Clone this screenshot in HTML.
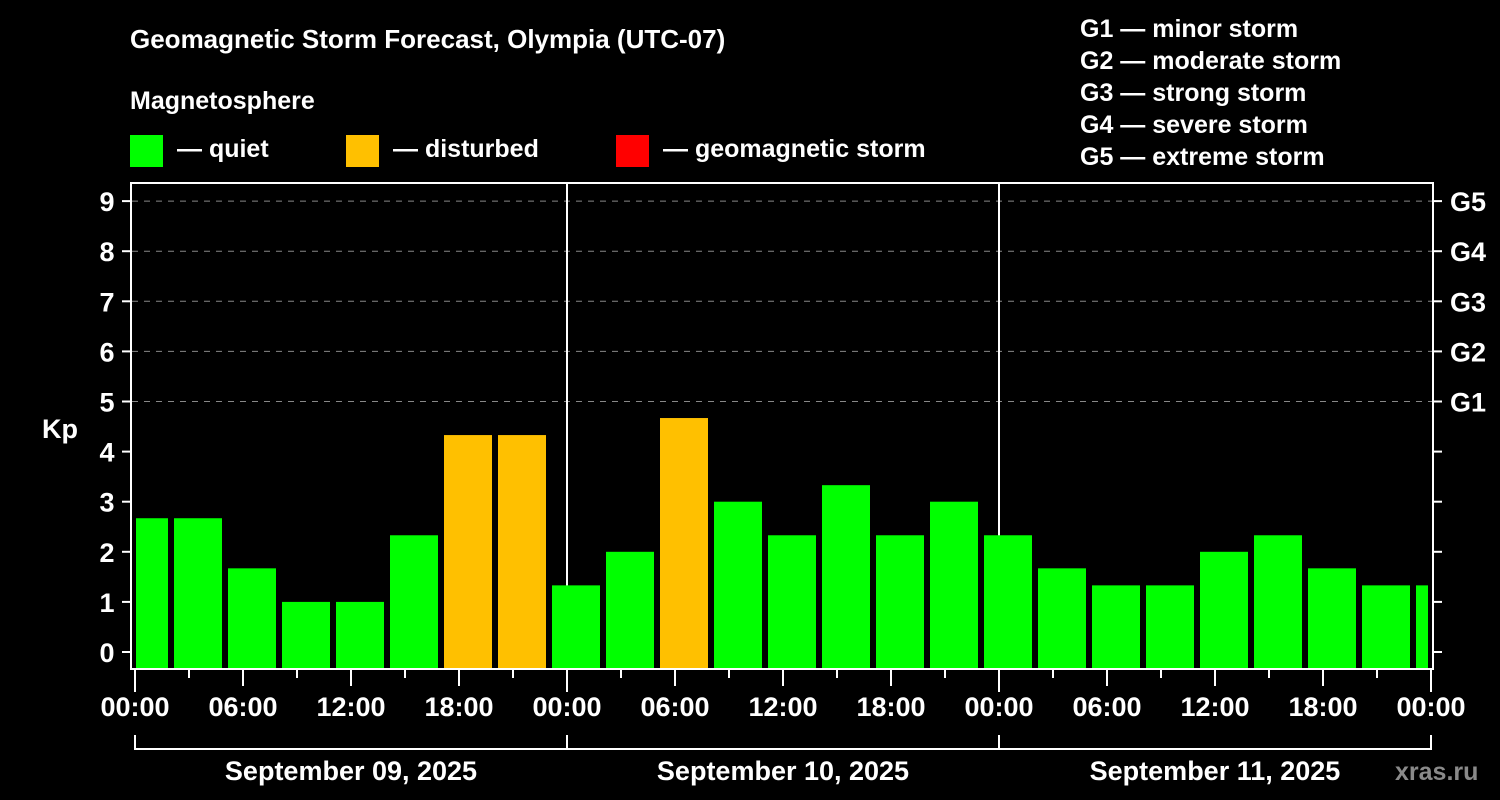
<!DOCTYPE html>
<html><head><meta charset="utf-8"><style>
body{margin:0;background:#000;width:1500px;height:800px;overflow:hidden}
svg{display:block}
text{font-family:"Liberation Sans",sans-serif;font-weight:bold;fill:#fff}
</style></head><body>
<svg id="chart" width="1500" height="800">
<text x="130" y="48" font-size="26">Geomagnetic Storm Forecast, Olympia (UTC-07)</text>
<text x="130" y="109" font-size="25">Magnetosphere</text>
<g><rect x="130" y="135" width="33" height="32" fill="#00ff00"/><text x="177" y="157" font-size="25">— quiet</text></g>
<g><rect x="346" y="135" width="33" height="32" fill="#ffc000"/><text x="393" y="157" font-size="25">— disturbed</text></g>
<g><rect x="616" y="135" width="33" height="32" fill="#ff0000"/><text x="663" y="157" font-size="25">— geomagnetic storm</text></g>
<g font-size="25">
<text x="1080" y="37">G1 — minor storm</text>
<text x="1080" y="69">G2 — moderate storm</text>
<text x="1080" y="101">G3 — strong storm</text>
<text x="1080" y="133">G4 — severe storm</text>
<text x="1080" y="165">G5 — extreme storm</text>
</g>
<text x="42" y="438" font-size="27">Kp</text>
<text x="1395" y="780" font-size="25" fill="#888" style="fill:#8a8a8a">xras.ru</text>
<defs><clipPath id="pc"><rect x="136" y="183" width="1292" height="486"/></clipPath></defs>
<g id="grid"></g>
<g id="bars" clip-path="url(#pc)"></g>
<g id="axes"></g>
</svg>
<script>
const kpValues=[2.67,2.67,1.67,1,1,2.33,4.33,4.33,1.33,2,4.67,3,2.33,3.33,2.33,3,2.33,1.67,1.33,1.33,2,2.33,1.67,1.33,1.33];
const barHours=[0.5,3.5,6.5,9.5,12.5,15.5,18.5,21.5,24.5,27.5,30.5,33.5,36.5,39.5,42.5,45.5,48.5,51.5,54.5,57.5,60.5,63.5,66.5,69.5,72.5];
const yTicks=[0,1,2,3,4,5,6,7,8,9];
const gLabels=["G1","G2","G3","G4","G5"];
const gLevels=[5,6,7,8,9];
const xTickLabels=["00:00","06:00","12:00","18:00","00:00","06:00","12:00","18:00","00:00","06:00","12:00","18:00","00:00"];
const dayLabels=["September 09, 2025","September 10, 2025","September 11, 2025"];
const NS="http://www.w3.org/2000/svg";
const X0=135,PXH=18,Y0=652,PXK=50.1;
const xs=h=>X0+h*PXH, ys=k=>Y0-k*PXK;
function mk(p,tag,at){const e=document.createElementNS(NS,tag);for(const k in at)e.setAttribute(k,at[k]);document.getElementById(p)?document.getElementById(p).appendChild(e):p.appendChild(e);return e;}
const bottom=669;
kpValues.forEach((v,i)=>{const c=xs(barHours[i]);
const r=mk("bars","rect",{x:c-24,y:ys(v),width:48,height:bottom-ys(v),fill:v>=5?"#ff0000":(v>=4?"#ffc000":"#00ff00")});

});
gLevels.forEach((k,i)=>{const l=mk("grid","line",{x1:132,x2:1432,y1:ys(k),y2:ys(k),stroke:"#888","stroke-dasharray":"6,6","stroke-width":1});


const t=mk("axes","text",{x:1450,y:ys(k)+10,"font-size":27});t.textContent=gLabels[i];

});
[1,2].forEach(d=>{const l=mk("grid","line",{x1:xs(d*24),x2:xs(d*24),y1:182,y2:669,stroke:"#fff","stroke-width":2});

});
const fr=mk("axes","rect",{x:131,y:183,width:1302,height:486,fill:"none",stroke:"#fff","stroke-width":2});


yTicks.forEach(k=>{mk("axes","line",{x1:122,x2:131,y1:ys(k),y2:ys(k),stroke:"#fff","stroke-width":2});
mk("axes","line",{x1:1433,x2:1442,y1:ys(k),y2:ys(k),stroke:"#fff","stroke-width":2});
const t=mk("axes","text",{x:107,y:ys(k)+10,"font-size":27,"text-anchor":"middle"});t.textContent=k;

});
for(let h=0;h<=72;h+=3){const len=h%24==0?22:(h%6==0?16:8);mk("axes","line",{x1:xs(h),x2:xs(h),y1:670,y2:670+len,stroke:"#fff","stroke-width":2});}
xTickLabels.forEach((s,i)=>{const t=mk("axes","text",{x:xs(i*6),y:716,"font-size":27,"text-anchor":"middle"});t.textContent=s;

});
mk("axes","path",{d:`M${xs(0)},735V749H${xs(72)}V735M${xs(24)},735V749M${xs(48)},735V749`,fill:"none",stroke:"#fff","stroke-width":2});
dayLabels.forEach((s,i)=>{const t=mk("axes","text",{x:xs(i*24+12),y:780,"font-size":27,"text-anchor":"middle"});t.textContent=s;

});
</script>
</body></html>
